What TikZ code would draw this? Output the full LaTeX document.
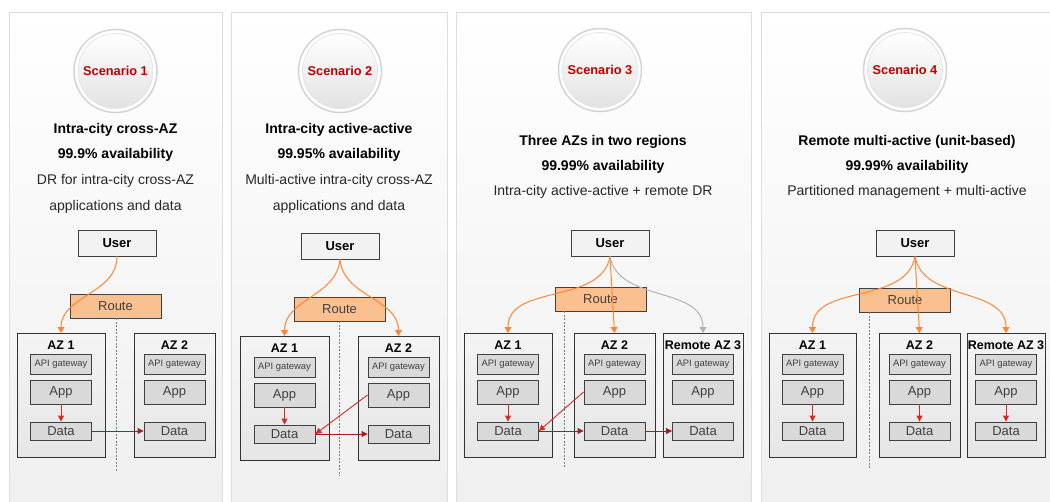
\documentclass[tikz,border=0pt]{standalone}
\usepackage{fontspec}
\setmainfont{Liberation Sans}
\usetikzlibrary{arrows.meta,positioning}

\definecolor{routefill}{HTML}{FAC090}
\definecolor{linegray}{HTML}{404040}
\definecolor{boxfill}{HTML}{D9D9D9}
\definecolor{usrfill}{HTML}{F2F2F2}
\definecolor{scenred}{HTML}{C00000}
\definecolor{orangearc}{HTML}{FF8533}
\definecolor{grayarc}{HTML}{B3B3B3}
\definecolor{appred}{HTML}{D42A2A}
\definecolor{datared}{HTML}{A31F1F}
\definecolor{panelline}{HTML}{DDDDDD}
\definecolor{panelbot}{HTML}{EFEFEF}
\definecolor{aztop}{HTML}{F4F4F4}
\definecolor{azbot}{HTML}{E6E6E6}
\definecolor{ringgray}{HTML}{D4D4D4}
\definecolor{discbot}{HTML}{E2E2E2}

\tikzstyle{panel}=[draw=panelline, line width=0.8pt, top color=white, bottom color=panelbot]
\tikzstyle{ring}=[draw=ringgray, circle, line width=1.5pt, fill=white, minimum size=83pt, inner sep=0pt]
\tikzstyle{scenario}=[draw=ringgray!70, circle, line width=0.6pt, top color=white, bottom color=discbot, minimum size=75pt, inner sep=0pt, text=scenred, font=\fontsize{12.8}{14}\selectfont\bfseries]
\tikzstyle{titletext}=[inner sep=0pt, font=\fontsize{14}{16}\selectfont\bfseries]
\tikzstyle{desctext}=[inner sep=0pt, text=black!85, font=\fontsize{14}{16}\selectfont]
\tikzstyle{userbox}=[draw=linegray, fill=usrfill, line width=0.9pt, minimum width=78pt, minimum height=26pt, inner sep=0pt, font=\fontsize{13}{15}\selectfont\bfseries]
\tikzstyle{routebox}=[draw=linegray, fill=routefill, line width=0.9pt, minimum width=91pt, minimum height=24pt, inner sep=0pt, text=linegray, font=\fontsize{13}{15}\selectfont]
\tikzstyle{azbox}=[draw=black!80, top color=aztop, bottom color=azbot, line width=0.9pt, minimum height=124pt, inner sep=0pt]
\tikzstyle{azlabel}=[inner sep=0pt, font=\fontsize{12.5}{14}\selectfont\bfseries]
\tikzstyle{innerbox}=[draw=linegray, fill=boxfill, line width=0.9pt, minimum width=61pt, inner sep=0pt, text=linegray]
\tikzstyle{apibox}=[innerbox, minimum height=20pt, font=\fontsize{9.4}{11}\selectfont]
\tikzstyle{appbox}=[innerbox, minimum height=24pt, font=\fontsize{13}{15}\selectfont]
\tikzstyle{databox}=[innerbox, minimum height=18pt, font=\fontsize{13}{15}\selectfont]
\tikzstyle{divider}=[gray, line width=0.6pt, dash pattern=on 2pt off 1.5pt]
\tikzstyle{userArc}=[orangearc, line width=1pt, -{Triangle[length=6pt,width=7pt]}]
\tikzstyle{drArc}=[grayarc, line width=1pt, -{Triangle[length=6pt,width=7pt]}]
\tikzstyle{appArrow}=[appred, line width=0.9pt, -{Triangle[length=6pt,width=6pt]}]
\tikzstyle{syncArrow}=[datared, line width=0.9pt, -{Triangle[length=6pt,width=6pt]}]

% one AZ: name, x centre, top y, width, label
\newcommand{\azblock}[5]{%
  \node[azbox, minimum width=#4pt, anchor=north] (#1) at (#2,#3) {};
  \node[azlabel] (#1lbl) at ([yshift=-12pt]#1.north) {#5};
  \node[apibox] (#1api) at ([yshift=-31pt]#1.north) {API gateway};
  \node[appbox] (#1app) at ([yshift=-59pt]#1.north) {App};
  \node[databox] (#1data) at ([yshift=-98pt]#1.north) {Data};
}

\begin{document}
\begin{tikzpicture}[x=1pt, y=-1pt]
    \useasboundingbox (0,0) rectangle (1050,501);
    \clip (0,0) rectangle (1050,501);

    % panels
    \draw[panel] (9,12) rectangle (222,520);
    \draw[panel] (231,12) rectangle (447,520);
    \draw[panel] (456,12) rectangle (751,520);
    \draw[panel] (761,12) rectangle (1070,520);

    % scenario discs
    \node[ring] (p1ring) at (115.5,71) {};
    \node[scenario] (p1scen) at (p1ring) {Scenario 1};
    \node[ring] (p2ring) at (340,71) {};
    \node[scenario] (p2scen) at (p2ring) {Scenario 2};
    \node[ring] (p3ring) at (600,70) {};
    \node[scenario] (p3scen) at (p3ring) {Scenario 3};
    \node[ring] (p4ring) at (905,70) {};
    \node[scenario] (p4scen) at (p4ring) {Scenario 4};

    % headings
    \node[titletext] (p1title) at (115.5,130) {Intra-city cross-AZ};
    \node[titletext] (p1avail) at (115.5,155) {99.9\% availability};
    \node[desctext] (p1desc) at (115.5,181) {DR for intra-city cross-AZ};
    \node[desctext] (p1desc2) at (115.5,207) {applications and data};

    \node[titletext] (p2title) at (339,130) {Intra-city active-active};
    \node[titletext] (p2avail) at (339,155) {99.95\% availability};
    \node[desctext] (p2desc) at (339,181) {Multi-active intra-city cross-AZ};
    \node[desctext] (p2desc2) at (339,207) {applications and data};

    \node[titletext] (p3title) at (603,142) {Three AZs in two regions};
    \node[titletext] (p3avail) at (603,167) {99.99\% availability};
    \node[desctext] (p3desc) at (603,192) {Intra-city active-active + remote DR};

    \node[titletext] (p4title) at (907,142) {Remote multi-active (unit-based)};
    \node[titletext] (p4avail) at (907,167) {99.99\% availability};
    \node[desctext] (p4desc) at (907,192) {Partitioned management + multi-active};

    % user and route
    \node[userbox] (p1user) at (117,243) {User};
    \node[routebox] (p1route) at (115.5,306) {Route};
    \node[userbox] (p2user) at (340,246) {User};
    \node[routebox] (p2route) at (339.5,309) {Route};
    \node[userbox] (p3user) at (610,243) {User};
    \node[routebox] (p3route) at (600.5,299) {Route};
    \node[userbox] (p4user) at (915,243) {User};
    \node[routebox] (p4route) at (905,300) {Route};

    % dividers
    \coordinate (p1divend) at (116,472);
    \coordinate (p2divend) at (339,476);
    \coordinate (p3divend) at (564,468);
    \coordinate (p4divend) at (869,468);
    \draw[divider] (p1route.south -| p1divend) -- (p1divend);
    \draw[divider] (p2route.south -| p2divend) -- (p2divend);
    \draw[divider] (p3route.south -| p3divend) -- (p3divend);
    \draw[divider] (p4route.south -| p4divend) -- (p4divend);

    % availability zones
    \azblock{p1az1}{61}{333}{88}{AZ 1}
    \azblock{p1az2}{174.5}{333}{81}{AZ 2}
    \azblock{p2az1}{284.5}{336}{89}{AZ 1}
    \azblock{p2az2}{398.5}{336}{81}{AZ 2}
    \azblock{p3az1}{508}{333}{88}{AZ 1}
    \azblock{p3az2}{614.5}{333}{81}{AZ 2}
    \azblock{p3az3}{703}{333}{80}{Remote AZ 3}
    \azblock{p4az1}{812.5}{333}{87}{AZ 1}
    \azblock{p4az2}{919.5}{333}{81}{AZ 2}
    \azblock{p4az3}{1006}{333}{78}{Remote AZ 3}

    % Arcs
    \draw[userArc] (p1user.south) to[out=-90,in=90] (p1az1.north);

    \draw[userArc] (p2user.south) to[out=-95,in=90] (p2az1.north);
    \draw[userArc] (p2user.south) to[out=-85,in=90] (p2az2.north);

    \draw[userArc] (p3user.south) to[out=-100,in=90] (p3az1.north);
    \draw[userArc] (p3user.south) -- (p3az2.north);
    \draw[drArc] (p3user.south) to[out=-80,in=90] (p3az3.north);

    \draw[userArc] (p4user.south) to[out=-100,in=90] (p4az1.north);
    \draw[userArc] (p4user.south) -- (p4az2.north);
    \draw[userArc] (p4user.south) to[out=-80,in=90] (p4az3.north);

    % data paths
    \draw[appArrow] (p1az1app) -- (p1az1data);
    \draw[syncArrow] (p1az1data) -- (p1az2data);

    \draw[appArrow] (p2az1app) -- (p2az1data);
    \draw[appArrow] (p2az2app.west) -- (p2az1data.east);
    \draw[syncArrow] (p2az1data) -- (p2az2data);

    \draw[appArrow] (p3az1app) -- (p3az1data);
    \draw[appArrow] (p3az2app.west) -- (p3az1data.east);
    \draw[syncArrow] (p3az1data) -- (p3az2data);
    \draw[syncArrow] (p3az2data) -- (p3az3data);

    \draw[appArrow] (p4az1app) -- (p4az1data);
    \draw[appArrow] (p4az2app) -- (p4az2data);
    \draw[appArrow] (p4az3app) -- (p4az3data);

\end{tikzpicture}
\end{document}
